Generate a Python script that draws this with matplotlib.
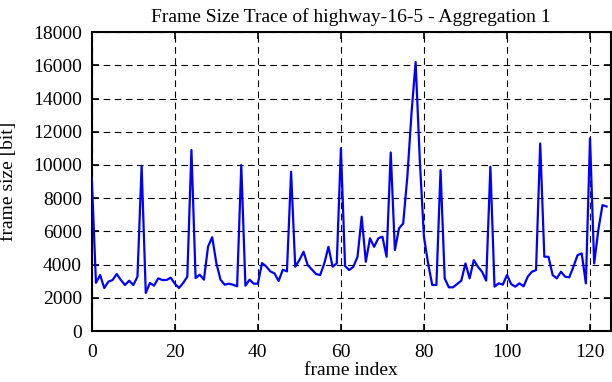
import matplotlib
matplotlib.use("Agg")
import matplotlib.pyplot as plt

plt.rcParams['font.family'] = ['Liberation Serif', 'DejaVu Serif']

# frame size per frame index (bit)
frameSizes = [
    9200, 2900, 3370, 2590, 2970, 3070, 3430, 3070, 2770, 3030,
    2770, 3270, 9950, 2290, 2890, 2730, 3170, 3070, 3070, 3210,
    2850, 2590, 2890, 3270, 10900, 3190, 3390, 3090, 5080, 5650,
    4090, 3090, 2790, 2850, 2790, 2690, 9990, 2730, 3090, 2850,
    2850, 4090, 3890, 3590, 3470, 3010, 3690, 3590, 9590, 3870,
    4270, 4770, 3970, 3710, 3430, 3370, 4070, 5070, 3870, 4070,
    11000, 3910, 3670, 3870, 4470, 6880, 4170, 5580, 5070, 5580,
    5680, 4470, 10750, 4880, 6180, 6480, 9290, 13100, 16200, 10290,
    5680, 4070, 2770, 2770, 9690, 3170, 2630, 2630, 2830, 3030,
    4070, 3170, 4270, 3870, 3570, 3030, 9890, 2670, 2870, 2790,
    3370, 2830, 2670, 2870, 2690, 3270, 3570, 3670, 11290, 4470,
    4470, 3370, 3170, 3570, 3270, 3230, 3870, 4570, 4670, 2870,
    11600, 4070, 6080, 7580, 7500,
]
frameIndex = list(range(len(frameSizes)))

xTicks = [0, 20, 40, 60, 80, 100, 120]
yTicks = [0, 2000, 4000, 6000, 8000, 10000, 12000, 14000, 16000, 18000]

fig = plt.figure(figsize=(6.12, 3.82), dpi=100)
ax = fig.add_axes([0.150, 0.1335, 0.848, 0.7825])

# draw the trace above the spines, like the original
ax.plot(frameIndex, frameSizes, color=(0, 0, 1), linewidth=1.6, zorder=3)

ax.set_xlim(0, 125)
ax.set_ylim(0, 18000)
ax.set_xticks(xTicks)
ax.set_yticks(yTicks)
ax.grid(True, color='black', linestyle=(0, (6, 4)), linewidth=0.8)
ax.tick_params(direction='in', top=True, right=True, length=5, width=1.2,
               labelsize=14)
ax.tick_params(axis='x', pad=9)
ax.tick_params(axis='y', pad=7)
for spine in ax.spines.values():
    spine.set_linewidth(1.5)

ax.set_title("Frame Size Trace of highway-16-5 - Aggregation 1", fontsize=14, pad=7)
ax.set_xlabel("frame index", fontsize=14, labelpad=1)
ax.set_ylabel("frame size [bit]", fontsize=14)
ax.yaxis.set_label_coords(-0.145, 0.5)

fig.savefig("out.png", dpi=100)
